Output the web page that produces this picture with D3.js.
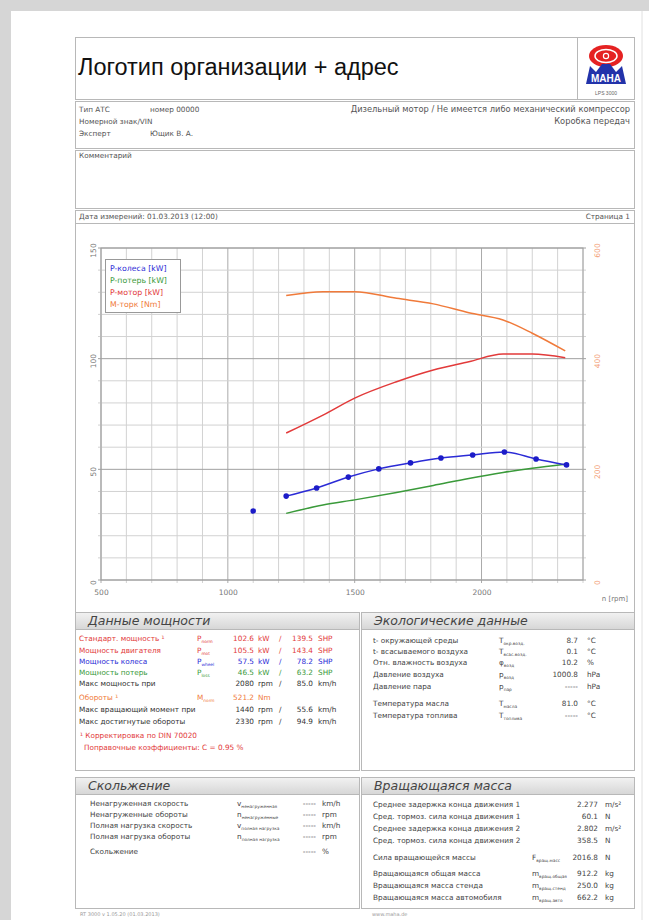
<!DOCTYPE html>
<html>
<head>
<meta charset="utf-8">
<script src="https://cdn.jsdelivr.net/npm/d3@7/dist/d3.min.js"></script>
<style>
body { margin: 0; background: #d6d6d6; }
svg { display: block; font-family: "Liberation Sans", Arial, sans-serif; }
</style>
</head>
<body>
<svg id="page" width="649" height="920"></svg>
<script>
// ---- данные графика ----
const rpmWheel = [1230, 1350, 1475, 1595, 1720, 1840, 1965, 2090, 2215, 2335];
const pWheel   = [37.9, 41.6, 46.5, 50.2, 52.9, 55.1, 56.5, 57.8, 54.7, 52.0];
const rpmSingle = [1100];
const pSingle   = [31.2];
const rpmCurve = [1230, 1375, 1500, 1665, 1810, 1950, 2085, 2200, 2330];
const pLoss    = [30.1, 33.9, 36.2, 39.5, 42.7, 45.9, 48.6, 50.5, 52.3];
const pEngine  = [66.4, 74.5, 82.2, 89.6, 94.9, 98.6, 102.1, 102.1, 100.4];
const torque   = [514, 521, 521, 509, 499, 483, 470, 446, 414];

const xTicks = [500, 1000, 1500, 2000];
const yTicks = [0, 50, 100, 150];
const tTicks = [0, 200, 400, 600];

const legendLabels = ["P-колеса [kW]", "P-потерь  [kW]", "P-мотор [kW]", "M-торк [Nm]"];
const legendColors = ["#2b2bd6", "#3a9a3a", "#e23a3a", "#f07a3a"];

// ---- данные таблиц ----
const infoLeft  = [["Тип АТС", "номер 00000"], ["Номерной знак/VIN", ""], ["Эксперт", "Ющик В. А."]];
const infoRight = ["Дизельный мотор / Не имеется либо механический компрессор", "Коробка передач"];

// [подпись, символ, индекс, значение1, ед1, значение2, ед2, цвет]
const powerRows = [
  ["Стандарт. мощность ¹", "P", "norm", "102.6", "kW", "139.5", "SHP", "#e23a3a"],
  ["Мощность двигателя", "P", "mot", "105.5", "kW", "143.4", "SHP", "#e23a3a"],
  ["Мощность колеса", "P", "wheel", "57.5", "kW", "78.2", "SHP", "#2b2bd6"],
  ["Мощность потерь", "P", "loss", "46.5", "kW", "63.2", "SHP", "#3a9a3a"],
  ["Макс мощность при", "", "", "2080", "rpm", "85.0", "km/h", "#333"],
  ["Обороты ¹", "M", "norm", "521.2", "Nm", "", "", "#f07a3a"],
  ["Макс вращающий момент при", "", "", "1440", "rpm", "55.6", "km/h", "#333"],
  ["Макс достигнутые обороты", "", "", "2330", "rpm", "94.9", "km/h", "#333"]
];
const powerRowY = [641, 653, 664, 675, 686, 700, 712, 724];
const powerNotes = ["¹ Корректировка по DIN 70020", "Поправочные коэффициенты: C  =  0.95 %"];

const ecoRows = [
  ["t- окружающей среды", "T", "окр.возд.", "8.7", "°C"],
  ["t- всасываемого воздуха", "T", "всас.возд.", "0.1", "°C"],
  ["Отн. влажность воздуха", "φ", "возд", "10.2", "%"],
  ["Давление воздуха", "p", "возд", "1000.8", "hPa"],
  ["Давление пара", "p", "пар", "-----", "hPa"],
  ["Температура масла", "T", "масла", "81.0", "°C"],
  ["Температура топлива", "T", "топлива", "-----", "°C"]
];
const ecoRowY = [643, 654, 665, 677, 689, 706, 718];

const slipRows = [
  ["Ненагруженная скорость", "v", "ненагруженная", "-----", "km/h"],
  ["Ненагруженные обороты", "n", "ненагруженные", "-----", "rpm"],
  ["Полная нагрузка скорость", "v", "полная нагрузка", "-----", "km/h"],
  ["Полная нагрузка обороты", "n", "полная нагрузка", "-----", "rpm"],
  ["Скольжение", "", "", "-----", "%"]
];
const slipRowY = [806, 817, 828, 839, 854];

const massRows = [
  ["Среднее задержка конца движения 1", "", "", "2.277", "m/s²"],
  ["Сред. тормоз. сила конца движения 1", "", "", "60.1", "N"],
  ["Среднее задержка конца движения 2", "", "", "2.802", "m/s²"],
  ["Сред. тормоз. сила конца движения 2", "", "", "358.5", "N"],
  ["Сила вращающейся массы", "F", "вращ.масс", "2016.8", "N"],
  ["Вращающаяся общая масса", "m", "вращ.общая", "912.2", "kg"],
  ["Вращающаяся масса стенда", "m", "вращ.стенд", "250.0", "kg"],
  ["Вращающаяся масса автомобиля", "m", "вращ.авто", "662.2", "kg"]
];
const massRowY = [807, 819, 831, 843, 860, 876, 888, 900];

// ---- страница ----
const svg = d3.select("#page");
const frameColor = "#b8b8b8";
const smallFamily = "DejaVu Sans";
const smallFont = 7.3;

svg.append("rect").attr("x", 0).attr("y", 0).attr("width", 649).attr("height", 920).attr("fill", "#d6d6d6");
svg.append("rect").attr("x", 11).attr("y", 11).attr("width", 638).attr("height", 909).attr("fill", "#ffffff");
svg.append("line").attr("x1", 642).attr("x2", 642).attr("y1", 11).attr("y2", 920)
  .attr("stroke", "#e0e0e0");

const defs = svg.append("defs");
const grad = defs.append("linearGradient").attr("id", "hdr").attr("x1", 0).attr("y1", 0).attr("x2", 0).attr("y2", 1);
grad.append("stop").attr("offset", "0%").attr("stop-color", "#f2f2f2");
grad.append("stop").attr("offset", "100%").attr("stop-color", "#d6d6d6");

function box(x, y, w, h) {
  svg.append("rect").attr("x", x + 0.5).attr("y", y + 0.5).attr("width", w).attr("height", h)
    .attr("fill", "none").attr("stroke", frameColor);
}

function txt(xs, y, s, color, anchor, size) {
  return svg.append("text").attr("x", xs).attr("y", y).attr("font-size", size || smallFont)
    .attr("font-family", smallFamily).attr("fill", color)
    .attr("text-anchor", anchor || "start").text(s);
}

function sym(xs, y, main, sub, color) {
  if (!main) return;
  const t = svg.append("text").attr("x", xs).attr("y", y).attr("font-size", smallFont)
    .attr("font-family", smallFamily).attr("fill", color);
  t.append("tspan").text(main);
  t.append("tspan").attr("dy", 2).attr("font-size", 4.3).text(sub);
}

// шапка
box(75, 37, 559, 62);
svg.append("line").attr("x1", 577.5).attr("x2", 577.5).attr("y1", 37).attr("y2", 99).attr("stroke", frameColor);
svg.append("text").attr("x", 78).attr("y", 75).attr("font-size", 23.5).attr("fill", "#111")
  .text("Логотип организации + адрес");

// логотип
const logo = svg.append("g").attr("transform", "translate(606,0)");
logo.append("ellipse").attr("cx", 0).attr("cy", 56).attr("rx", 17).attr("ry", 11).attr("fill", "#e52222");
logo.append("ellipse").attr("cx", 0).attr("cy", 56).attr("rx", 11).attr("ry", 6.5).attr("fill", "none")
  .attr("stroke", "#fff").attr("stroke-width", 1.5);
logo.append("circle").attr("cx", 0).attr("cy", 56).attr("r", 3.2).attr("fill", "#fff");
logo.append("circle").attr("cx", 0).attr("cy", 56).attr("r", 2).attr("fill", "#e52222");
logo.append("path").attr("d", "M-20,84 L-16,66 L-10,72 L-4,64 L4,64 L10,72 L16,66 L20,84 Z").attr("fill", "#2233aa");
logo.append("text").attr("x", 0).attr("y", 82).attr("text-anchor", "middle").attr("font-size", 10)
  .attr("font-weight", "bold").attr("fill", "#fff").text("MAHA");
logo.append("text").attr("x", 0).attr("y", 95).attr("text-anchor", "middle").attr("font-size", 5)
  .attr("fill", "#666").text("LPS 3000");

// информация
box(75, 101, 559, 47);
infoLeft.forEach((r, i) => {
  const y = 112 + i * 12;
  txt(79, y, r[0], "#555");
  txt(150, y, r[1], "#555");
});
infoRight.forEach((t, i) => {
  txt(630, 112 + i * 12, t, "#555", "end", 8.3);
});

box(75, 150, 559, 58);
txt(79, 158, "Комментарий", "#555");

box(75, 210, 559, 13);
txt(79, 219, "Дата измерений:  01.03.2013 (12:00)", "#555");
txt(630, 219, "Страница 1", "#555", "end");

svg.append("line").attr("x1", 75.5).attr("x2", 75.5).attr("y1", 223).attr("y2", 612).attr("stroke", frameColor);
svg.append("line").attr("x1", 634.5).attr("x2", 634.5).attr("y1", 223).attr("y2", 612).attr("stroke", frameColor);

// ---- график ----
const plot = { left: 101, right: 583, top: 248, bottom: 580 };
const x = d3.scaleLinear().domain([500, 2400]).range([plot.left, plot.right]);
const yP = d3.scaleLinear().domain([0, 150]).range([plot.bottom, plot.top]);
const yT = d3.scaleLinear().domain([0, 600]).range([plot.bottom, plot.top]);

const grid = svg.append("g");
d3.range(500, 2401, 100).forEach(v => {
  grid.append("line").attr("x1", x(v)).attr("x2", x(v)).attr("y1", plot.top).attr("y2", plot.bottom + 3)
    .attr("stroke", v % 500 === 0 ? "#aaaaaa" : "#d2d2d2");
});
d3.range(0, 151, 10).forEach(v => {
  grid.append("line").attr("x1", plot.left - 3).attr("x2", plot.right + 3).attr("y1", yP(v)).attr("y2", yP(v))
    .attr("stroke", v % 50 === 0 ? "#a0a0a0" : "#d2d2d2");
});
svg.append("rect").attr("x", plot.left).attr("y", plot.top)
  .attr("width", plot.right - plot.left).attr("height", plot.bottom - plot.top)
  .attr("fill", "none").attr("stroke", "#a0a0a0");

// оси
const axisX = svg.append("g").attr("transform", `translate(0,${plot.bottom})`)
  .call(d3.axisBottom(x).tickValues(xTicks).tickFormat(d3.format("d")).tickSize(0).tickPadding(10));
axisX.select(".domain").remove();
axisX.selectAll("text").attr("font-size", 7.5).attr("fill", "#777").attr("font-family", smallFamily);

const axisL = svg.append("g").attr("transform", `translate(${plot.left},0)`)
  .call(d3.axisLeft(yP).tickValues(yTicks).tickSize(0));
axisL.select(".domain").remove();
axisL.selectAll("text").attr("x", 0).attr("dy", 0).attr("text-anchor", "middle")
  .attr("transform", "translate(-5,2) rotate(-90)")
  .attr("font-size", 7.5).attr("fill", "#777").attr("font-family", smallFamily);

const axisR = svg.append("g").attr("transform", `translate(${plot.right},0)`)
  .call(d3.axisRight(yT).tickValues(tTicks).tickSize(0));
axisR.select(".domain").remove();
axisR.selectAll("text").attr("x", 0).attr("dy", 0).attr("text-anchor", "middle")
  .attr("transform", "translate(17,2) rotate(-90)")
  .attr("font-size", 7.5).attr("fill", "#f3a27a").attr("font-family", smallFamily);

txt(628, 601, "n [rpm]", "#777", "end", 7);

// кривые
const lineP = d3.line().curve(d3.curveMonotoneX).x(d => x(d[0])).y(d => yP(d[1]));
const lineT = d3.line().curve(d3.curveMonotoneX).x(d => x(d[0])).y(d => yT(d[1]));

svg.append("path").attr("d", lineT(d3.zip(rpmCurve, torque)))
  .attr("fill", "none").attr("stroke", legendColors[3]).attr("stroke-width", 1.5);
svg.append("path").attr("d", lineP(d3.zip(rpmCurve, pEngine)))
  .attr("fill", "none").attr("stroke", legendColors[2]).attr("stroke-width", 1.5);
svg.append("path").attr("d", lineP(d3.zip(rpmCurve, pLoss)))
  .attr("fill", "none").attr("stroke", legendColors[1]).attr("stroke-width", 1.5);
svg.append("path").attr("d", lineP(d3.zip(rpmWheel, pWheel)))
  .attr("fill", "none").attr("stroke", legendColors[0]).attr("stroke-width", 1.5);
svg.selectAll(".dot")
  .data(d3.zip(rpmWheel.concat(rpmSingle), pWheel.concat(pSingle)))
  .enter().append("circle")
  .attr("class", "dot")
  .attr("cx", d => x(d[0]))
  .attr("cy", d => yP(d[1]))
  .attr("r", 2.8)
  .attr("fill", "#1c1cc8");

// легенда
const legend = svg.append("g");
legend.append("rect").attr("x", 105.5).attr("y", 259.5).attr("width", 75).attr("height", 53)
  .attr("fill", "#fff").attr("stroke", "#999");
legendLabels.forEach((t, i) => {
  txt(110, 271 + i * 12, t, legendColors[i], "start", 7.8);
});

// ---- таблицы ----
function section(x0, y0, w, h, title) {
  svg.append("rect").attr("x", x0 + 0.5).attr("y", y0 + 0.5).attr("width", w).attr("height", 17)
    .attr("fill", "url(#hdr)");
  box(x0, y0, w, h);
  svg.append("line").attr("x1", x0).attr("x2", x0 + w).attr("y1", y0 + 17.5).attr("y2", y0 + 17.5)
    .attr("stroke", frameColor);
  svg.append("text").attr("x", x0 + 13).attr("y", y0 + 13).attr("font-size", 12.5)
    .attr("font-family", smallFamily).attr("font-style", "italic").attr("fill", "#444").text(title);
}

section(75, 612, 284, 158, "Данные мощности");
powerRows.forEach((r, i) => {
  const y = powerRowY[i];
  txt(79, y, r[0], r[7]);
  sym(197, y, r[1], r[2], r[7]);
  txt(254, y, r[3], r[7], "end");
  txt(258, y, r[4], r[7]);
  if (r[5]) {
    txt(279, y, "/", r[7]);
    txt(313, y, r[5], r[7], "end");
    txt(318, y, r[6], r[7]);
  }
});
txt(80, 738, powerNotes[0], "#e23a3a");
txt(84, 750, powerNotes[1], "#e23a3a");

section(361, 612, 273, 158, "Экологические данные");
ecoRows.forEach((r, i) => {
  const y = ecoRowY[i];
  txt(373, y, r[0], "#444");
  sym(499, y, r[1], r[2], "#444");
  txt(578, y, r[3], "#444", "end");
  txt(587, y, r[4], "#444");
});

section(75, 777, 284, 131, "Скольжение");
slipRows.forEach((r, i) => {
  const y = slipRowY[i];
  txt(90, y, r[0], "#444");
  sym(237, y, r[1], r[2], "#444");
  txt(316, y, r[3], "#444", "end");
  txt(322, y, r[4], "#444");
});

section(361, 777, 273, 131, "Вращающаяся масса");
massRows.forEach((r, i) => {
  const y = massRowY[i];
  txt(373, y, r[0], "#444");
  sym(532, y, r[1], r[2], "#444");
  txt(598, y, r[3], "#444", "end");
  txt(605, y, r[4], "#444");
});

// подвал
txt(80, 916, "RT 3000 v 1.05.20 (01.03.2013)", "#999", "start", 5);
txt(372, 916, "www.maha.de", "#999", "start", 5);
</script>
</body>
</html>
